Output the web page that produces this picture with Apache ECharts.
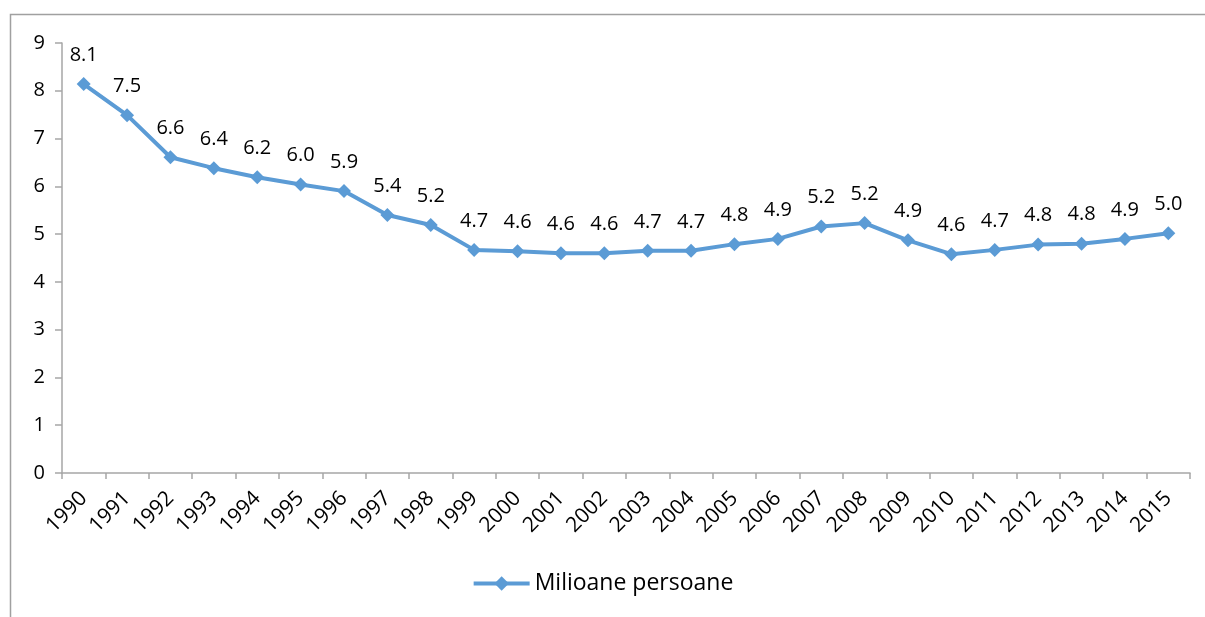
<!DOCTYPE html>
<html>
<head>
<meta charset="utf-8">
<script src="https://cdn.jsdelivr.net/npm/echarts@6/dist/echarts.min.js"></script>
<style>
  html, body { margin: 0; padding: 0; background: #fff; }
  #chart { width: 1205px; height: 617px; }
</style>
</head>
<body>
<div id="chart"></div>
<script>
const years = ['1990', '1991', '1992', '1993', '1994', '1995', '1996', '1997', '1998', '1999',
  '2000', '2001', '2002', '2003', '2004', '2005', '2006', '2007', '2008', '2009',
  '2010', '2011', '2012', '2013', '2014', '2015'];
const persons = [8.14, 7.49, 6.61, 6.38, 6.19, 6.04, 5.9, 5.4, 5.19, 4.67,
  4.64, 4.6, 4.6, 4.65, 4.65, 4.79, 4.9, 5.16, 5.23, 4.87,
  4.58, 4.67, 4.78, 4.8, 4.9, 5.02];
const seriesName = 'Milioane persoane';

const font = '"Open Sans", "Liberation Sans", sans-serif';
const lineColor = '#5b9bd5';
const axisColor = '#a6a6a6';

const myChart = echarts.init(document.getElementById('chart'));

const option = {
  animation: false,
  textStyle: { fontFamily: font },
  graphic: [{
    type: 'rect',
    shape: { x: 10.5, y: 14.5, width: 1400, height: 800 },
    style: { fill: 'none', stroke: '#a0a0a0', lineWidth: 1.5 },
    silent: true
  }],
  grid: {
    left: 62,
    right: 15,
    top: 43,
    bottom: 144
  },
  legend: {
    bottom: 17,
    left: 'center',
    itemWidth: 56,
    itemHeight: 18,
    itemGap: 6,
    lineStyle: { width: 4 },
    textStyle: { fontSize: 23, color: '#000', fontFamily: font },
    data: [seriesName]
  },
  xAxis: {
    type: 'category',
    data: years,
    boundaryGap: true,
    axisLine: { lineStyle: { color: axisColor, width: 1.5 } },
    axisTick: { show: true, length: 6, alignWithLabel: false, lineStyle: { color: axisColor, width: 1.5 } },
    axisLabel: { rotate: 45, color: '#000', fontSize: 21, margin: 22, interval: 0 }
  },
  yAxis: {
    type: 'value',
    min: 0,
    max: 9,
    interval: 1,
    axisLine: { show: true, lineStyle: { color: axisColor, width: 1.5 } },
    axisTick: { show: true, length: 7, lineStyle: { color: axisColor, width: 1.5 } },
    splitLine: { show: false },
    axisLabel: { color: '#000', fontSize: 20, margin: 17 }
  },
  series: [{
    name: seriesName,
    type: 'line',
    data: persons,
    symbol: 'diamond',
    symbolSize: 14,
    itemStyle: { color: lineColor },
    lineStyle: { color: lineColor, width: 4 },
    label: {
      show: true,
      position: 'top',
      distance: 12,
      color: '#000',
      fontSize: 20,
      fontFamily: font,
      formatter: p => p.value.toFixed(1)
    }
  }]
};

myChart.setOption(option);
</script>
</body>
</html>
